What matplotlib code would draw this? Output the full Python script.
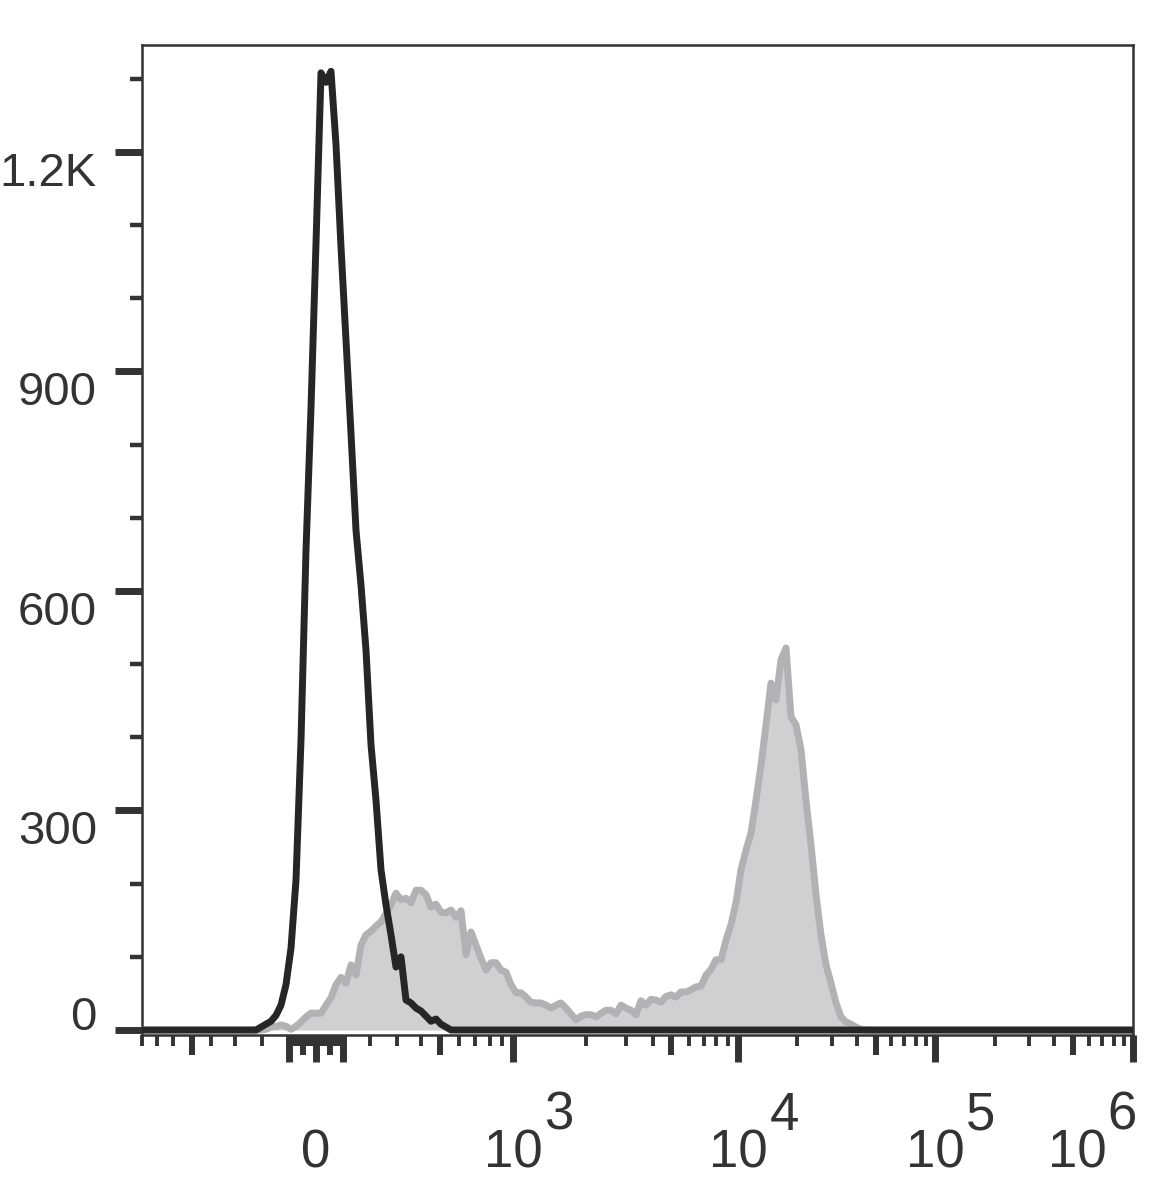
import numpy as np
import matplotlib
matplotlib.use("Agg")
import matplotlib.pyplot as plt
import matplotlib.transforms as mtransforms

# ---------------- data ----------------
# biexponential display scale anchors (value -> display units)
LIN_V = [0, 100, 200, 300, 400, 500, 600, 700, 800, 900, 1000]
LIN_D = [0, 27, 54, 81, 105, 124, 143, 159, 174, 186, 197]
LOG_V = [1e3, 2e3, 3e3, 4e3, 5e3, 1e4, 1e5, 1e6, 1e7]
LOG_D = [197, 270, 310, 337, 355, 422, 619, 817, 1015]

# histogram bins: uniformly spaced in display units
N_BINS = 200
BIN_STEP = 5
BIN_START = -175

black_vals = [0, 4, 8, 12, 20, 34, 62, 112, 205, 396, 656, 850, 1075, 1308, 1295,
              1310, 1210, 1070, 943, 815, 683, 608, 519, 390, 314, 219, 171, 130,
              86, 100, 41, 37, 30, 26, 19, 12, 15, 8, 4, 0]
black_lead = 23

gray_vals = [0, 1, 4, 5, 7, 5, 1, 5, 11, 18, 23, 23, 23, 34, 44, 62, 72, 64, 89, 75,
             116, 130, 135, 142, 148, 159, 171, 187, 178, 180, 174, 191, 191, 185,
             168, 172, 161, 160, 164, 154, 163, 103, 134, 116, 98, 82, 92, 92, 82,
             79, 62, 51, 51, 45, 38, 37, 37, 34, 30, 34, 37, 30, 22, 14, 19, 21, 21,
             18, 23, 27, 27, 22, 34, 30, 27, 21, 40, 34, 42, 41, 38, 46, 48, 45, 52,
             52, 55, 59, 60, 75, 83, 96, 96, 123, 144, 174, 219, 246, 269, 314, 362,
             417, 474, 451, 506, 522, 428, 417, 383, 314, 253, 185, 130, 89, 64, 37,
             18, 11, 8, 4, 1, 0]
gray_lead = 24

x_major = [-100, 0, 100, 1e3, 1e4, 1e5, 1e6]
x_major_labels = ["", "0", "", "10", "10", "10", "10"]
x_exponents = [(1e3, "3"), (1e4, "4"), (1e5, "5"), (1e6, "6")]
x_medium = [-500, -50, 50, 500, 5e3, 5e4, 5e5]
x_minor = ([-v for v in range(10, 100, 10) if v != 50] + [v for v in range(10, 100, 10) if v != 50]
           + [-v for v in range(200, 900, 100) if v != 500] + [v for v in range(200, 1000, 100) if v != 500]
           + [m * 10 ** e for e in (3, 4, 5) for m in (2, 3, 4, 6, 7, 8, 9)])

y_major = [0, 300, 600, 900, 1200]
y_major_labels = ["0", "300", "600", "900", "1.2K"]
y_minor = [100, 200, 400, 500, 700, 800, 1000, 1100, 1300]


# ---------------- scale ----------------
def fwd(v):
    v = np.asarray(v, dtype=float)
    a = np.abs(v)
    lin = np.interp(a, LIN_V, LIN_D)
    lg = np.interp(np.log10(np.maximum(a, 1000.0)), np.log10(LOG_V), LOG_D)
    return np.sign(v) * np.where(a <= 1000, lin, lg)


def inv(d):
    d = np.asarray(d, dtype=float)
    a = np.abs(d)
    lin = np.interp(a, LIN_D, LIN_V)
    lg = 10 ** np.interp(np.maximum(a, 197.0), LOG_D, np.log10(LOG_V))
    return np.sign(d) * np.where(a <= 197, lin, lg)


bin_disp = BIN_START + BIN_STEP * np.arange(N_BINS)
bin_x = inv(bin_disp)
black = np.array(black_vals, dtype=float)
black = np.concatenate([np.zeros(black_lead), black, np.zeros(N_BINS - black_lead - len(black))])
gray = np.array(gray_vals, dtype=float)
gray = np.concatenate([np.zeros(gray_lead), gray, np.zeros(N_BINS - gray_lead - len(gray))])

# ---------------- figure ----------------
W, H = 1169, 1194
fig = plt.figure(figsize=(W / 100, H / 100), dpi=100)
rect = [142 / W, 1 - 1035 / H, (1133 - 142) / W, (1035 - 45) / H]
XLIM = (float(inv(-174)), 1e6)
YLIM = (-6.8, 1346)
dark = "#333333"

# overlay axes for the medium-length x ticks (drawn underneath)
ax2 = fig.add_axes(rect)
ax2.set_xscale("function", functions=(fwd, inv))
ax2.set_xlim(*XLIM)
ax2.set_ylim(*YLIM)
ax2.patch.set_visible(False)
for s in ax2.spines.values():
    s.set_visible(False)
ax2.set_yticks([])
ax2.set_xticks(x_medium, [""] * len(x_medium))
ax2.set_xticks([], minor=True)
ax2.tick_params(axis="x", which="major", length=14.4, width=4.3, color=dark)

ax = fig.add_axes(rect)
ax.patch.set_visible(False)
ax.set_xscale("function", functions=(fwd, inv))
ax.set_xlim(*XLIM)
ax.set_ylim(*YLIM)

ax.fill_between(bin_x, gray, 0, color="#d0d0d0", lw=0, zorder=2)
ax.plot(bin_x, gray, color="#b2b2b4", lw=5, solid_joinstyle="round", zorder=3)
ax.plot(bin_x, black, color="#262626", lw=5, solid_joinstyle="round", zorder=4)

for s in ax.spines.values():
    s.set_color(dark)
    s.set_linewidth(1.8)

# y ticks
ax.set_yticks(y_major, y_major_labels)
ax.set_yticks(y_minor, minor=True)
ax.tick_params(axis="y", which="major", length=19.4, width=5, color=dark, pad=13,
               labelsize=34, labelcolor=dark)
ax.tick_params(axis="y", which="minor", length=8.6, width=3.2, color=dark)
for lab in ax.get_yticklabels():
    lab.set_fontfamily(["Liberation Sans", "DejaVu Sans"])
    lab.set_verticalalignment("top")
yt = ax.yaxis.get_major_ticks()
yt[0].label1.set_verticalalignment("bottom")
yt[0].label1.set_transform(yt[0].label1.get_transform()
                           + mtransforms.ScaledTranslation(0, -10 / 100, fig.dpi_scale_trans))

# x ticks
ax.set_xticks(x_major, x_major_labels)
ax.set_xticks(x_minor, minor=True)
ax.tick_params(axis="x", which="major", length=19.4, width=5, color=dark, pad=48,
               labelsize=38, labelcolor=dark)
ax.tick_params(axis="x", which="minor", length=8, width=2.8, color=dark)
for lab in ax.get_xticklabels():
    lab.set_fontfamily(["Liberation Sans", "DejaVu Sans"])
xt = ax.xaxis.get_major_ticks()
xt[-1].label1.set_transform(xt[-1].label1.get_transform()
                            + mtransforms.ScaledTranslation(-56 / 100, 0, fig.dpi_scale_trans))

# exponents of the decade labels
for val, e in x_exponents:
    dx = -11 if val == 1e6 else 46
    ax.annotate(e, xy=(val, 0), xycoords=("data", "axes fraction"),
                xytext=(dx * 0.72, -95 * 0.72), textcoords="offset points",
                ha="center", va="baseline", fontsize=38, color=dark,
                fontfamily=["Liberation Sans", "DejaVu Sans"],
                annotation_clip=False)

fig.savefig("out.png", dpi=100)
